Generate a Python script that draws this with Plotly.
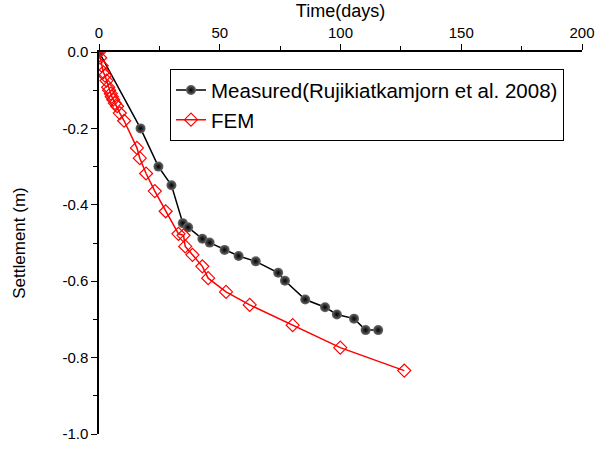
import plotly.graph_objects as go

meas_x = [0, 17.2, 24.6, 30.0, 34.7, 36.9, 42.8, 45.8, 52.0, 57.8, 64.9, 74.2, 77.0, 85.4, 93.6, 98.5, 105.6, 110.4, 115.6]
meas_y = [0.0, -0.200, -0.300, -0.349, -0.448, -0.459, -0.489, -0.499, -0.518, -0.534, -0.548, -0.578, -0.599, -0.648, -0.668, -0.687, -0.698, -0.728, -0.728]

fem_x = [0, 0.5, 1.1, 1.8, 2.5, 3.1, 3.8, 4.2, 4.9, 5.3, 5.9, 6.6, 7.5, 8.6, 10.4, 15.7, 16.9, 19.5, 23.1, 27.6, 32.9, 35.0, 35.7, 38.7, 42.8, 45.2, 52.6, 62.4, 80.2, 99.9, 126.4]
fem_y = [0.0, -0.015, -0.036, -0.053, -0.062, -0.075, -0.092, -0.100, -0.109, -0.117, -0.125, -0.134, -0.142, -0.160, -0.180, -0.251, -0.278, -0.318, -0.364, -0.417, -0.476, -0.480, -0.509, -0.531, -0.561, -0.592, -0.628, -0.662, -0.715, -0.774, -0.834]

x_ticks = [0, 50, 100, 150, 200]
x_labels = ["0", "50", "100", "150", "200"]
y_ticks = [0.0, -0.2, -0.4, -0.6, -0.8, -1.0]
y_labels = ["0.0", "-0.2", "-0.4", "-0.6", "-0.8", "-1.0"]

font = "Arial, Liberation Sans, sans-serif"

fig = go.Figure()
fig.add_trace(go.Scatter(
    x=meas_x, y=meas_y, mode="lines+markers",
    name="Measured(Rujikiatkamjorn et al. 2008)",
    line=dict(color="black", width=1.5),
    marker=dict(symbol="circle", size=10, color="#6a6a6a",
                gradient=dict(type="radial", color="#000000"),
                line=dict(width=0)),
))
fig.add_trace(go.Scatter(
    x=fem_x, y=fem_y, mode="lines+markers",
    name="FEM",
    line=dict(color="red", width=1.5),
    marker=dict(symbol="diamond-open", size=10, color="red", line=dict(width=1.2)),
))

fig.update_layout(
    width=605, height=452,
    margin=dict(l=99, r=17, t=48, b=10),
    paper_bgcolor="white", plot_bgcolor="white",
    font=dict(family=font, size=15, color="black"),
    showlegend=True,
    legend=dict(x=0.147, y=0.955, xanchor="left", yanchor="top",
                bordercolor="black", borderwidth=1, bgcolor="white",
                font=dict(size=20.5, family=font), tracegroupgap=0),
    xaxis=dict(
        side="top", range=[0, 200], tickvals=x_ticks, ticktext=x_labels,
        ticks="outside", ticklen=6, tickwidth=1, tickcolor="black",
        minor=dict(tickvals=[25, 75, 125, 175], ticks="outside", ticklen=4, tickcolor="black"),
        showline=True, linecolor="black", linewidth=1.5,
        showgrid=False, zeroline=False,
        title=dict(text="Time(days)", font=dict(size=18), standoff=2),
        tickfont=dict(size=15),
    ),
    yaxis=dict(
        range=[-1.0, 0.0], tickvals=y_ticks, ticktext=y_labels,
        ticks="outside", ticklen=6, tickwidth=1, tickcolor="black",
        minor=dict(tickvals=[-0.1, -0.3, -0.5, -0.7, -0.9], ticks="outside", ticklen=4, tickcolor="black"),
        showline=True, linecolor="black", linewidth=1.5,
        showgrid=False, zeroline=False,
        title=dict(text="Settlement (m)", font=dict(size=17), standoff=32),
        tickfont=dict(size=15),
    ),
)

fig.write_html("out.html")
